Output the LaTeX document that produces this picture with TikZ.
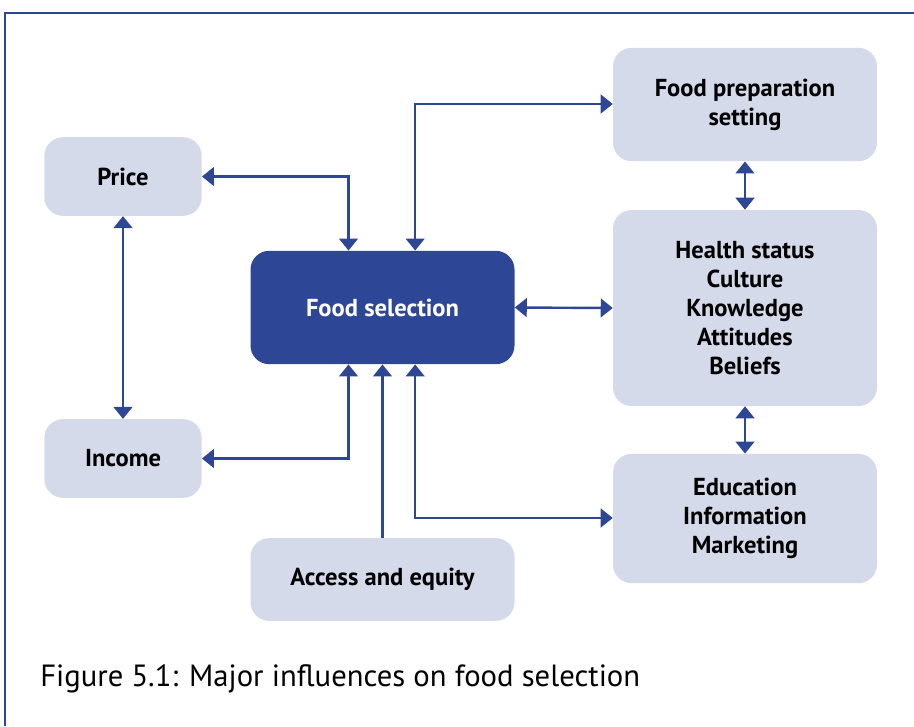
\documentclass[tikz,border=0pt]{standalone}
\usepackage{fontspec}
\setmainfont{PT Sans}
\usetikzlibrary{arrows.meta}
\definecolor{figblue}{HTML}{2E4696}
\definecolor{boxgrey}{HTML}{D5DAEA}
\begin{document}
\begin{tikzpicture}[x=0.75pt, y=-0.75pt,
    every node/.style = {align=center,
      font=\bfseries\fontsize{18.4}{21.8}\selectfont},
    box/.style = {shape=rectangle, rounded corners=14pt,
      fill=boxgrey, inner sep=0pt},
    mainbox/.style = {box, fill=figblue, text=white},
    link/.style = {draw=figblue, line width=1.8pt,
      {Triangle[width=14pt,length=9pt]}-{Triangle[width=14pt,length=9pt]}},
    feed/.style = {link, -{Triangle[width=14pt,length=9pt]}}]
  \useasboundingbox (0,0) rectangle (914,726);
  \draw[figblue, line width=1.5pt] (5,726) -- (5,13) -- (914,13);
  \node[mainbox, minimum width=198pt, minimum height=85pt] (select) at (382.5,307.5) {Food selection};
  \node[box, minimum width=118pt, minimum height=59pt] (price) at (123,176.5) {Price};
  \node[box, minimum width=118pt, minimum height=59pt] (income) at (123,458.5) {Income};
  \node[box, minimum width=198pt, minimum height=62pt] (access) at (382.5,579.5) {Access and equity};
  \node[box, minimum width=198pt, minimum height=85pt] (prep) at (745,104.5) {Food preparation\\setting};
  \node[box, minimum width=198pt, minimum height=147pt] (health) at (745,308)
    {Health status\\Culture\\Knowledge\\Attitudes\\Beliefs};
  \node[box, minimum width=198pt, minimum height=97pt] (educ) at (745,518.5)
    {Education\\Information\\Marketing};
  \node[anchor=base west, inner sep=0pt, font=\fontsize{23}{27}\selectfont] (caption) at (40,686)
    {Figure 5.1: Major influences on food selection};
  % connectors
  \draw[link] (price.east) -- ++(146,0) -| ([xshift=-25.5pt]select.north);
  \draw[link] (income.east) -- ++(146,0) -| ([xshift=-25.5pt]select.south);
  \draw[link] (prep.west |- 0,104) -| ([xshift=24.5pt]select.north);
  \draw[link] (educ.west |- 0,518) -| ([xshift=24.5pt]select.south);
  \draw[feed] (access.north) -- (select.south);
  \draw[link] (select.east) -- (health.west);
  \draw[link] (prep.south) -- (health.north);
  \draw[link] (health.south) -- (educ.north);
  \draw[link] (price.south) -- (income.north);
\end{tikzpicture}
\end{document}
